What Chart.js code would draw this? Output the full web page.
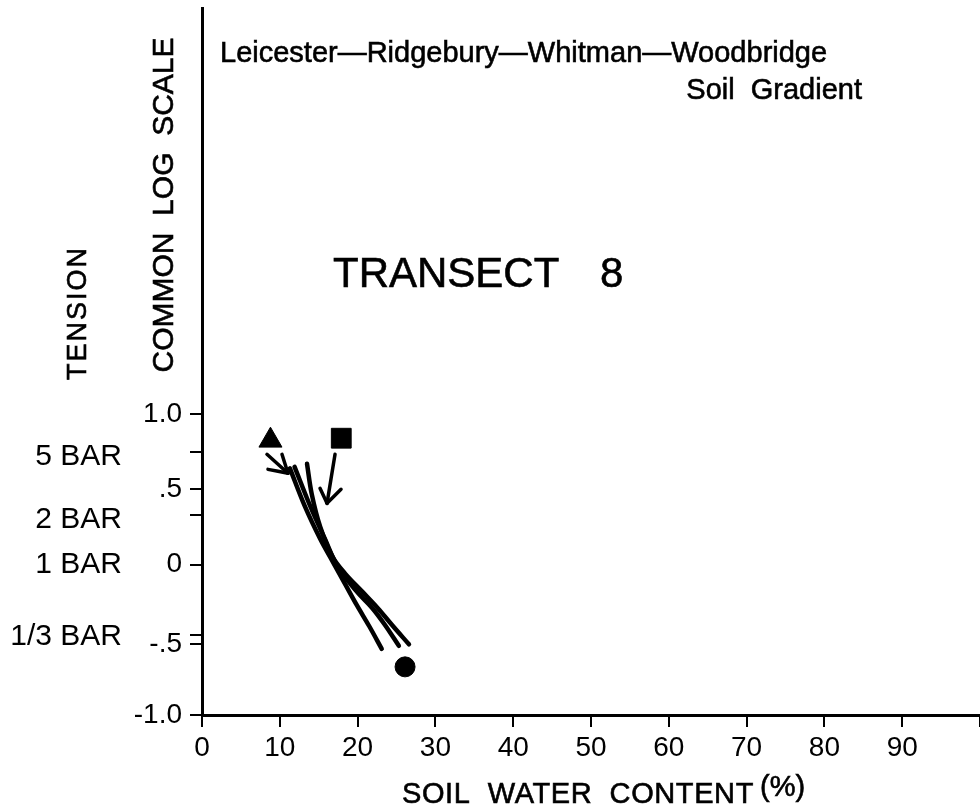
<!DOCTYPE html>
<html><head><meta charset="utf-8">
<script src="https://cdn.jsdelivr.net/npm/chart.js@4.4.0/dist/chart.umd.min.js"></script>
<style>html,body{margin:0;padding:0;background:#fff}#wrap{width:980px;height:811px;position:relative;background:#fff}</style>
</head><body><div id="wrap"><canvas id="c"></canvas></div>
<script>
const FONT = '"Liberation Sans", Arial, sans-serif';

// ---- tick values / labels ----
const xTickValues = [0, 10, 20, 30, 40, 50, 60, 70, 80, 90, 100];
const xTickLabels = ['0', '10', '20', '30', '40', '50', '60', '70', '80', '90', ''];
const yTickValues = [-1.0, -0.53, -0.47, 0, 0.33, 0.5, 0.75, 1.0];
const yTickLabels = ['-1.0', '-.5', '', '0', '', '.5', '', '1.0'];
const barTickValues = [-0.48, 0, 0.3, 0.72];
const barTickLabels = ['1/3 BAR', '1 BAR', '2 BAR', '5 BAR'];

// ---- curves (soil water content %, log tension) ----
const curveAX = [11.3, 13.2, 15.2, 16.8, 18.4, 19.9, 21.5, 23.1];
const curveAY = [0.64, 0.39, 0.17, 0.02, -0.13, -0.27, -0.41, -0.56];
const curveBX = [11.9, 13.9, 15.8, 17.4, 19.9, 21.9, 23.5, 25.3];
const curveBY = [0.65, 0.39, 0.17, -0.01, -0.18, -0.29, -0.40, -0.54];
const curveCX = [13.5, 14.1, 15.2, 16.8, 18.4, 20.6, 22.6, 24.4, 26.6];
const curveCY = [0.67, 0.47, 0.25, 0.05, -0.06, -0.18, -0.29, -0.40, -0.53];

// ---- symbols ----
const triangleX = [8.8], triangleY = [0.825];
const squareX = [17.9], squareY = [0.84];
const circleX = [26.1], circleY = [-0.68];

// ---- arrows (strokes) ----
const arrow1ShaftX = [8.35, 11.05], arrow1ShaftY = [0.733, 0.607];
const arrow1HeadAX = [10.28, 11.05], arrow1HeadAY = [0.733, 0.607];
const arrow1HeadBX = [8.48, 11.05], arrow1HeadBY = [0.633, 0.607];
const arrow2ShaftX = [17.1, 16.07], arrow2ShaftY = [0.733, 0.407];
const arrow2HeadAX = [15.17, 16.07], arrow2HeadAY = [0.507, 0.407];
const arrow2HeadBX = [17.87, 16.07], arrow2HeadBY = [0.50, 0.407];

const pts = (xs, ys) => xs.map((x, i) => ({x: x, y: ys[i]}));
const lineDs = (xs, ys, w) => ({
  data: pts(xs, ys), showLine: true, pointRadius: 0, borderColor: '#000',
  borderWidth: w, tension: 0.35, borderCapStyle: 'round', borderJoinStyle: 'round', fill: false
});
const markDs = (xs, ys, style, r) => ({
  data: pts(xs, ys), showLine: false, pointStyle: style, pointRadius: r,
  backgroundColor: '#000', borderColor: '#000', borderWidth: 1
});

const textPlugin = {
  id: 'texts',
  afterDraw(chart) {
    const ctx = chart.ctx;
    ctx.save();
    ctx.fillStyle = '#000';
    ctx.strokeStyle = '#000';
    ctx.lineWidth = 0.6;
    ctx.textBaseline = 'alphabetic';
    const put = (t, x, y) => { ctx.fillText(t, x, y); ctx.strokeText(t, x, y); };
    ctx.font = '29px ' + FONT;
    ctx.textAlign = 'left';
    put('Leicester\u2014Ridgebury\u2014Whitman\u2014Woodbridge', 220, 62);
    ctx.textAlign = 'right';
    put('Soil  Gradient', 862, 99);
    ctx.textAlign = 'left';
    ctx.font = '42px ' + FONT;
    put('TRANSECT', 333, 287);
    put('8', 600, 287);
    ctx.font = '29px ' + FONT;
    ctx.save();
    try { ctx.letterSpacing = '0.6px'; } catch (e) {}
    put('SOIL  WATER  CONTENT', 402, 803);
    ctx.restore();
    put('(%)', 760, 796);
    // rotated titles
    ctx.save();
    ctx.translate(86, 313);
    ctx.rotate(-Math.PI / 2);
    ctx.textAlign = 'center';
    ctx.font = '27px ' + FONT;
    try { ctx.letterSpacing = '2px'; } catch (e) {}
    put('TENSION', 0, 0);
    ctx.restore();
    ctx.save();
    ctx.translate(173, 205);
    ctx.rotate(-Math.PI / 2);
    ctx.textAlign = 'center';
    ctx.font = '30px ' + FONT;
    put('COMMON  LOG  SCALE', 0, 0);
    ctx.restore();
    ctx.restore();
  }
};

new Chart(document.getElementById('c'), {
  type: 'scatter',
  data: {
    datasets: [
      lineDs(curveAX, curveAY, 4.5),
      lineDs(curveBX, curveBY, 4.5),
      lineDs(curveCX, curveCY, 4.5),
      lineDs(arrow1ShaftX, arrow1ShaftY, 3.5),
      lineDs(arrow1HeadAX, arrow1HeadAY, 3.5),
      lineDs(arrow1HeadBX, arrow1HeadBY, 3.5),
      lineDs(arrow2ShaftX, arrow2ShaftY, 3.5),
      lineDs(arrow2HeadAX, arrow2HeadAY, 3.5),
      lineDs(arrow2HeadBX, arrow2HeadBY, 3.5),
      markDs(triangleX, triangleY, 'triangle', 13.3),
      markDs(squareX, squareY, 'rect', 14),
      markDs(circleX, circleY, 'circle', 10)
    ]
  },
  options: {
    responsive: true, maintainAspectRatio: false, animation: false,
    layout: {autoPadding: false, padding: {top: 8, right: 0, left: 0, bottom: 0}},
    plugins: {legend: {display: false}, tooltip: {enabled: false}, title: {display: false}},
    scales: {
      x: {
        type: 'linear', position: 'bottom', min: 0, max: 100,
        afterBuildTicks: s => { s.ticks = xTickValues.map(v => ({value: v})); },
        afterFit: s => { s.height = 96; s.paddingLeft = 0; s.paddingRight = 0; },
        ticks: {callback: (v, i) => xTickLabels[i], font: {family: FONT, size: 28}, color: '#000', padding: 4, maxRotation: 0, autoSkip: false},
        grid: {drawOnChartArea: false, drawTicks: true, tickLength: 12, color: '#000', lineWidth: 2},
        border: {display: true, color: '#000', width: 3}
      },
      y: {
        type: 'linear', position: 'left', min: -1, max: 3.7, weight: 0,
        afterBuildTicks: s => { s.ticks = yTickValues.map(v => ({value: v})); },
        afterFit: s => { s.width = 72; s.paddingTop = 0; s.paddingBottom = 0; },
        ticks: {callback: (v, i) => yTickLabels[i], font: {family: FONT, size: 28}, color: '#000', padding: 8, autoSkip: false},
        grid: {drawOnChartArea: false, drawTicks: true, tickLength: 12, color: '#000', lineWidth: 2},
        border: {display: true, color: '#000', width: 3}
      },
      yBar: {
        type: 'linear', position: 'left', min: -1, max: 3.7, weight: 1,
        afterBuildTicks: s => { s.ticks = barTickValues.map(v => ({value: v})); },
        afterFit: s => { s.width = 130; s.paddingTop = 0; s.paddingBottom = 0; },
        ticks: {callback: (v, i) => barTickLabels[i], font: {family: FONT, size: 30}, color: '#000', padding: 8, autoSkip: false},
        grid: {display: false, drawTicks: false},
        border: {display: false}
      }
    }
  },
  plugins: [textPlugin]
});
</script>
</body></html>
